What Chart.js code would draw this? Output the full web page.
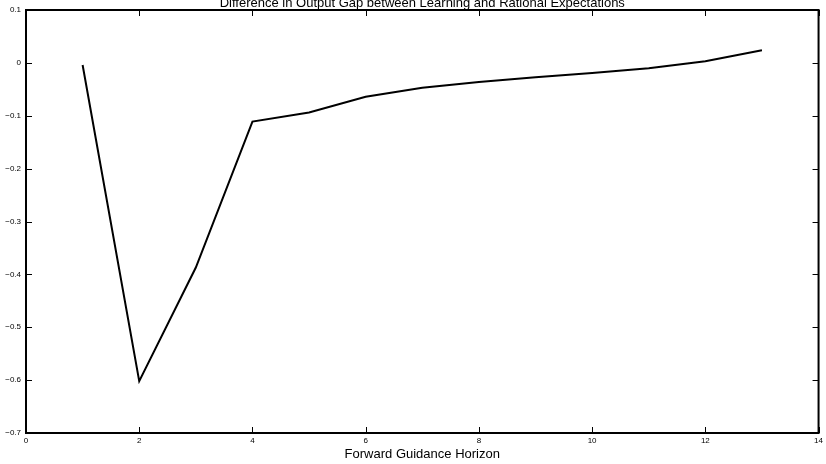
<!DOCTYPE html>
<html>
<head>
<meta charset="utf-8">
<script src="https://cdn.jsdelivr.net/npm/chart.js@4/dist/chart.umd.min.js"></script>
<style>
  html, body { margin: 0; padding: 0; background: #fff; }
  #wrap { width: 826px; height: 464px; }
</style>
</head>
<body>
<div id="wrap"><canvas id="gapChart" width="826" height="464"></canvas></div>
<script>
// Horizon (quarters) and output gap difference
const horizon = [1, 2, 3, 4, 5, 6, 7, 8, 9, 10, 11, 12, 13];
const gapDiff = [-0.004, -0.602, -0.387, -0.111, -0.094, -0.064, -0.047, -0.036, -0.027, -0.019, -0.010, 0.003, 0.024];
const xTicks = [0, 2, 4, 6, 8, 10, 12, 14];
const yTicks = [-0.7, -0.6, -0.5, -0.4, -0.3, -0.2, -0.1, 0, 0.1];
const chartTitle = 'Difference in Output Gap between Learning and Rational Expectations';
const xLabel = 'Forward Guidance Horizon';

const FONT = '"Liberation Sans", Arial, sans-serif';

// matlab-ish box with inward ticks + clipped title
const boxPlugin = {
  id: 'boxPlugin',
  afterDraw(chart) {
    const { ctx, chartArea: a, scales: { x, y } } = chart;
    ctx.save();
    ctx.strokeStyle = '#000';
    ctx.lineWidth = 1;
    const len = 6;
    ctx.beginPath();
    xTicks.forEach(v => {
      const px = Math.round(x.getPixelForValue(v)) + 0.5;
      ctx.moveTo(px, a.bottom); ctx.lineTo(px, a.bottom - len);
      ctx.moveTo(px, a.top); ctx.lineTo(px, a.top + len);
    });
    yTicks.forEach(v => {
      const py = Math.round(y.getPixelForValue(v)) + 0.5;
      ctx.moveTo(a.left, py); ctx.lineTo(a.left + len, py);
      ctx.moveTo(a.right, py); ctx.lineTo(a.right - len, py);
    });
    ctx.stroke();
    ctx.lineWidth = 2;
    ctx.strokeRect(a.left, a.top, a.right - a.left, a.bottom - a.top);

    ctx.fillStyle = '#000';
    ctx.font = '13px ' + FONT;
    ctx.textAlign = 'center';
    ctx.textBaseline = 'middle';
    ctx.fillText(chartTitle, (a.left + a.right) / 2, 3);
    ctx.fillText(xLabel, (a.left + a.right) / 2, 454);
    ctx.restore();
  }
};

new Chart(document.getElementById('gapChart'), {
  type: 'line',
  data: {
    datasets: [{
      data: horizon.map((h, i) => ({ x: h, y: gapDiff[i] })),
      borderColor: '#000',
      borderWidth: 2,
      pointRadius: 0,
      tension: 0,
      fill: false
    }]
  },
  options: {
    responsive: false,
    animation: false,
    layout: { padding: { top: 10, right: 6, left: 0, bottom: 0 } },
    plugins: { legend: { display: false }, tooltip: { enabled: false }, title: { display: false } },
    scales: {
      x: {
        type: 'linear', min: 0, max: 14,
        afterBuildTicks: s => { s.ticks = xTicks.map(v => ({ value: v })); },
        afterFit: s => { s.height = 31; },
        grid: { display: false, drawTicks: false },
        border: { display: false },
        ticks: { padding: 3, color: '#000', font: { family: FONT, size: 8 }, maxRotation: 0 }
      },
      y: {
        type: 'linear', min: -0.7, max: 0.1,
        afterBuildTicks: s => { s.ticks = yTicks.map(v => ({ value: v })); },
        afterFit: s => { s.width = 26; },
        grid: { display: false, drawTicks: false },
        border: { display: false },
        ticks: {
          padding: 5, color: '#000', font: { family: FONT, size: 8 },
          callback: v => v === 0 ? '0' : (Math.round(v * 10) / 10).toString().replace('-', '\u2212')
        }
      }
    }
  },
  plugins: [boxPlugin]
});
</script>
</body>
</html>
